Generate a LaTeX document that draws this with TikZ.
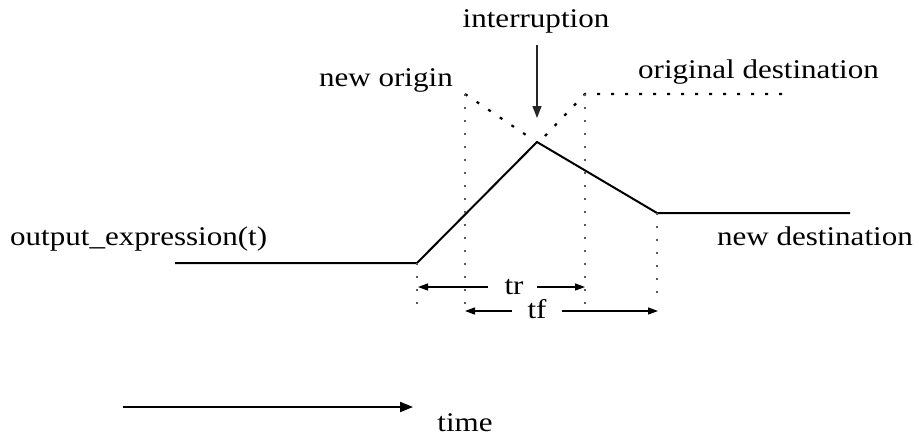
\documentclass[tikz,border=0pt]{standalone}
\usepackage{fontspec}
\setmainfont{Liberation Serif}[FakeStretch=1.15]
\usetikzlibrary{arrows.meta}
\tikzset{
  lbl/.style={inner sep=0pt, font=\fontsize{27}{30}\selectfont},
  curve/.style={line width=2pt, line join=miter},
  dots/.style={line width=2.2pt, dash pattern=on 3pt off 11pt},
  vdots/.style={line width=1.8pt, dash pattern=on 2pt off 11pt, gray!70!black},
  dimarrow/.style={line width=1.2pt, -{Triangle[length=10pt,width=7pt]}},
  pointer/.style={line width=1.4pt, gray!30!black, -{Triangle[length=12pt,width=9pt]}},
}
\begin{document}
\begin{tikzpicture}[x=1pt,y=-1pt]
\useasboundingbox (0,0) rectangle (919,437);
% key points
\coordinate (a) at (175,263);
\coordinate (b) at (417,263);
\coordinate (pk) at (537,142);
\coordinate (c) at (657,213);
\coordinate (d) at (850,213);
\coordinate (no) at (465,94);
\coordinate (od) at (585,94);
\coordinate (odend) at (785,94);
\coordinate (nol) at (529,137);
\coordinate (odl) at (545,136);
% texts
\node[lbl, anchor=base] (interr) at (536,27) {interruption};
\node[lbl, anchor=base east] (neworig) at (453,86) {new origin};
\node[lbl, anchor=base west] (origdest) at (638,78) {original destination};
\node[lbl, anchor=base west] (outexp) at (10,245) {output\_expression(t)};
\node[lbl, anchor=base east] (newdest) at (913,245) {new destination};
\node[lbl, anchor=base] (tr) at (514,294) {tr};
\node[lbl, anchor=base] (tf) at (537,318) {tf};
\node[lbl, anchor=base] (time) at (465,431) {time};
% main curve
\draw[curve] (a) -- (b) -- (pk) -- (c) -- (d);
% dotted original trajectory
\draw[dots] (no) -- (nol);
\draw[dots] (odl) -- (od) -- (odend);
% vertical dotted guides
\coordinate (v1b) at (417,313);
\coordinate (v2b) at (465,313);
\coordinate (v3b) at (585,313);
\coordinate (v4b) at (657,295);
\draw[vdots] (b) -- (v1b);
\draw[vdots] (no) -- (v2b);
\draw[vdots] (od) -- (v3b);
\draw[vdots] (c) -- (v4b);
% tr arrows
\coordinate (trl) at (418,287);
\coordinate (trr) at (585,287);
\coordinate (trls) at (488,287);
\coordinate (trrs) at (537,287);
\draw[dimarrow] (trls) -- (trl);
\draw[dimarrow] (trrs) -- (trr);
% tf arrows
\coordinate (tfl) at (465,311);
\coordinate (tfr) at (658,311);
\coordinate (tfls) at (512,311);
\coordinate (tfrs) at (562,311);
\draw[dimarrow] (tfls) -- (tfl);
\draw[dimarrow] (tfrs) -- (tfr);
% interruption pointer
\coordinate (ips) at (537,45);
\coordinate (ip) at (537,118);
\draw[pointer] (ips) -- (ip);
% time arrow
\coordinate (t0) at (123,407);
\coordinate (t1) at (413,407);
\draw[line width=2pt, -{Triangle[length=13pt,width=10pt]}] (t0) -- (t1);
\end{tikzpicture}
\end{document}
